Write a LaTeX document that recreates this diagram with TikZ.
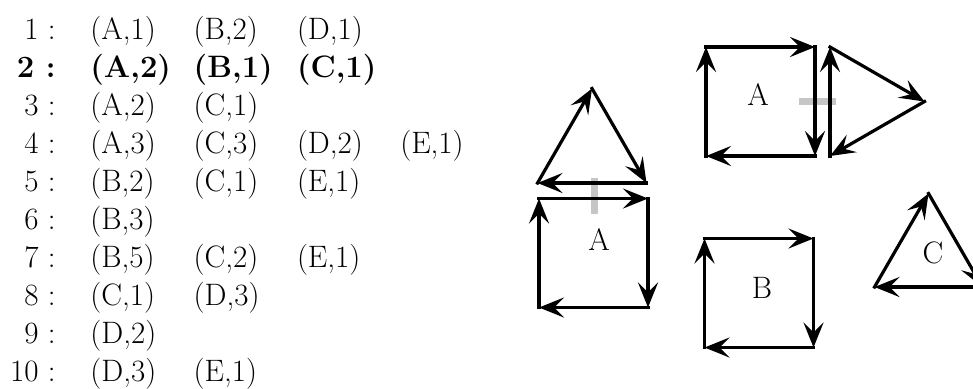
\documentclass[tikz,border=0pt]{standalone}
\usetikzlibrary{arrows.meta}
\tikzset{
  edge/.style={line width=1.6pt, line cap=rect, -{Stealth[length=12.5pt,width=10pt,inset=5pt]}},
  seam/.style={gray!45, line width=3.5pt},
  lbl/.style={inner sep=0pt, font=\fontsize{15.5}{18}\selectfont}
}

\begin{document}
\begin{tikzpicture}[x=0.5pt,y=-0.5pt]
\clip (0,0) rectangle (973,388);
% the list of rows
\foreach \n/\f/\items in {1/\mdseries/{A/1,B/2,D/1}, 2/\bfseries/{A/2,B/1,C/1}, 3/\mdseries/{A/2,C/1},
  4/\mdseries/{A/3,C/3,D/2,E/1}, 5/\mdseries/{B/2,C/1,E/1}, 6/\mdseries/{B/3}, 7/\mdseries/{B/5,C/2,E/1},
  8/\mdseries/{C/1,D/3}, 9/\mdseries/{D/2}, 10/\mdseries/{D/3,E/1}} {
 \node[lbl, anchor=base east] (n\n) at (56,{39+38*(\n-1)}) {\f\n\ :};
 \foreach \p/\q [count=\c] in \items
  \node[lbl, anchor=base west] (e\n-\c) at ({90+103.3*(\c-1)},{39+38*(\n-1)}) {\f(\p,\q)};
}
% corners
\coordinate (a1) at (706,47); \coordinate (a2) at (815,47);
\coordinate (a3) at (815,156); \coordinate (a4) at (706,156);
\coordinate (t1) at (830,47); \coordinate (t2) at (924.5,101.5); \coordinate (t3) at (830,156);
\coordinate (u1) at (592,88.5); \coordinate (u2) at (646.5,183); \coordinate (u3) at (537.5,183);
\coordinate (b1) at (539,198.5); \coordinate (b2) at (648,198.5);
\coordinate (b3) at (648,307.5); \coordinate (b4) at (539,307.5);
\coordinate (s1) at (704.5,238.5); \coordinate (s2) at (813.5,238.5);
\coordinate (s3) at (813.5,347.5); \coordinate (s4) at (704.5,347.5);
\coordinate (c1) at (928.5,193.5); \coordinate (c2) at (982.5,287); \coordinate (c3) at (874.5,287);
\coordinate (h1) at (799,101); \coordinate (h2) at (836,101);
\coordinate (v1) at (594,178); \coordinate (v2) at (594,214);
% glued edges
\draw[seam] (h1)--(h2);
\draw[seam] (v1)--(v2);
% faces
\draw[edge] (a4)--(a1); \draw[edge] (a1)--(a2); \draw[edge] (a2)--(a3); \draw[edge] (a3)--(a4);
\draw[edge] (t3)--(t1); \draw[edge] (t1)--(t2); \draw[edge] (t2)--(t3);
\draw[edge] (u3)--(u1); \draw[edge] (u1)--(u2); \draw[edge] (u2)--(u3);
\draw[edge] (b4)--(b1); \draw[edge] (b1)--(b2); \draw[edge] (b2)--(b3); \draw[edge] (b3)--(b4);
\draw[edge] (s4)--(s1); \draw[edge] (s1)--(s2); \draw[edge] (s2)--(s3); \draw[edge] (s3)--(s4);
\draw[edge] (c3)--(c1); \draw[edge] (c1)--(c2); \draw[edge] (c2)--(c3);
\node[lbl] (la1) at (758,95) {A};
\node[lbl] (la2) at (599,240) {A};
\node[lbl] (lb) at (762,288) {B};
\node[lbl] (lc) at (933,253) {C};
\end{tikzpicture}
\end{document}
